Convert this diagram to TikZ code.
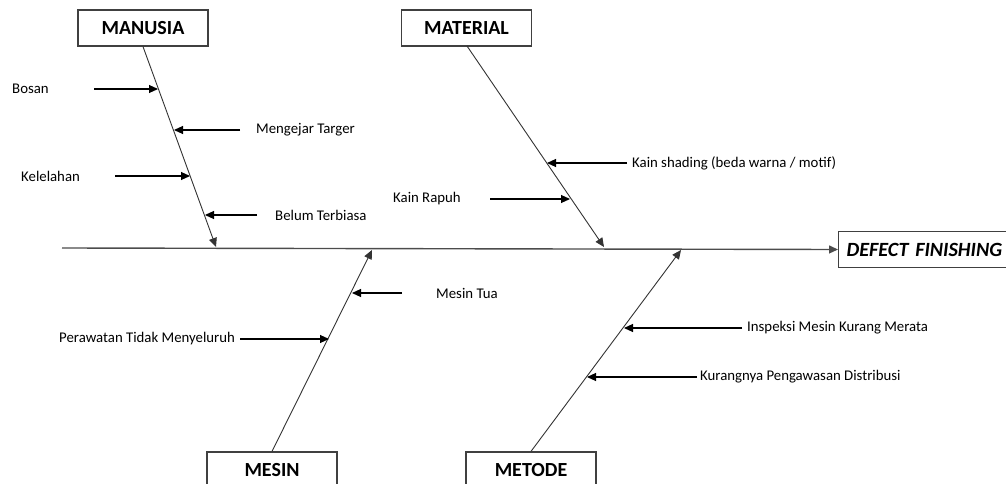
\documentclass[tikz,border=0pt]{standalone}
\usepackage{fontspec}
\setmainfont{Carlito}
\usetikzlibrary{arrows.meta}

\tikzset{
	head/.style={draw=black!75, line width=1.2pt, minimum width=130pt, minimum height=36pt,
		inner sep=0pt, font=\fontsize{20}{24}\selectfont\bfseries},
	cause/.style={inner sep=0pt, font=\fontsize{14.8}{17}\selectfont},
	bone/.style={draw=black!80, line width=0.9pt},
	twig/.style={draw=black, line width=1.1pt}
}

\begin{document}
\begin{tikzpicture}[x=1pt, y=-1pt, -{Triangle[length=9pt,width=8pt]}]
	\useasboundingbox (0,0) rectangle (1006,484);
	\clip (0,0) rectangle (1006,484);
	% heads of the bones
	\node[head] (manusia) at (143,28) {MANUSIA};
	\node[head] (material) at (466.5,28) {MATERIAL};
	\node[head] (mesin) at (272,470) {MESIN};
	\node[head] (metode) at (531,470) {METODE};
	\node[head, anchor=west, text width=200pt, minimum width=0pt, inner sep=8pt, align=left,
		font=\fontsize{20.2}{24}\selectfont\bfseries\itshape] (defect) at (838,249.5) {DEFECT FINISHING};
	% spine
	\coordinate (tail) at (62,248);
	\draw[draw=black!70, line width=1.4pt] (tail) to (defect.west);
	% ends of the bones on the spine
	\coordinate (M1) at (216,247);
	\coordinate (M2) at (604,247);
	\coordinate (M3) at (372,250);
	\coordinate (M4) at (681,250);
	\draw[bone] (manusia.south) to (M1);
	\draw[bone] (material) ++(0.5,18) coordinate (mat) (mat) to (M2);
	\draw[bone] (mesin.north) to (M3);
	\draw[bone] (metode.north) to (M4);
	% causes
	\node[cause, anchor=west] (bosan) at (12,89) {Bosan};
	\node[cause, anchor=west] (lelah) at (21,176) {Kelelahan};
	\node[cause, anchor=west] (target) at (256,130) {Mengejar Targer};
	\node[cause, anchor=west] (biasa) at (275,215) {Belum Terbiasa};
	\node[cause, anchor=west] (rapuh) at (393,199) {Kain Rapuh};
	\node[cause, anchor=west] (shading) at (632,163) {Kain shading (beda warna / motif)};
	\node[cause, anchor=west] (tua) at (436,293) {Mesin Tua};
	\node[cause, anchor=west] (rawat) at (59,339) {Perawatan Tidak Menyeluruh};
	\node[cause, anchor=west] (inspeksi) at (747,328) {Inspeksi Mesin Kurang Merata};
	\node[cause, anchor=west] (awas) at (700,377) {Kurangnya Pengawasan Distribusi};
	% arrows into the bones
	\coordinate (b1) at (94,89);   \coordinate (e1) at (158,89);
	\coordinate (b2) at (115,176); \coordinate (e2) at (190,176);
	\coordinate (b3) at (240,130); \coordinate (e3) at (174,130);
	\coordinate (b4) at (257,215); \coordinate (e4) at (205,215);
	\coordinate (b5) at (490,199); \coordinate (e5) at (570,199);
	\coordinate (b6) at (627,163); \coordinate (e6) at (547,163);
	\coordinate (b7) at (402,293); \coordinate (e7) at (352,293);
	\coordinate (b8) at (240,339); \coordinate (e8) at (329,339);
	\coordinate (b9) at (742,328); \coordinate (e9) at (624,328);
	\coordinate (b10) at (697,377); \coordinate (e10) at (587,377);
	\foreach \i in {1,...,10}
		\draw[twig] (b\i) to (e\i);
\end{tikzpicture}
\end{document}
